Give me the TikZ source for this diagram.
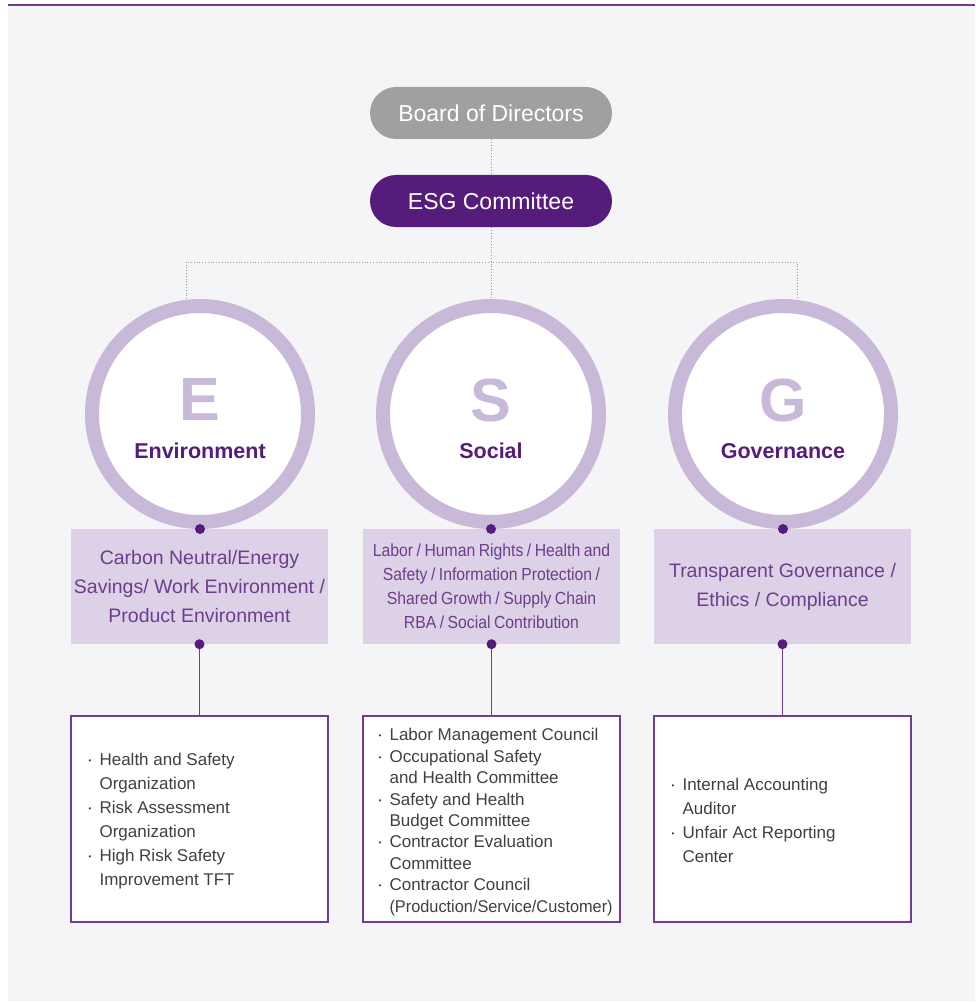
\documentclass[tikz,border=0pt]{standalone}
\usepackage{fontspec}
\setmainfont{Liberation Sans}
\newfontfamily\narrowfont[FakeStretch=0.9, WordSpace=0.8]{Liberation Sans}
\newfontfamily\slimfont[FakeStretch=0.96]{Liberation Sans}
\usetikzlibrary{positioning}
\definecolor{panelgray}{RGB}{245,245,247}
\definecolor{esgpurple}{RGB}{86,28,124}
\definecolor{ringlilac}{RGB}{201,185,216}
\definecolor{boxlilac}{RGB}{220,209,230}
\definecolor{topicpurple}{RGB}{108,62,142}
\definecolor{linepurple}{RGB}{112,60,150}
\definecolor{boardgray}{RGB}{160,160,160}
\definecolor{itemgray}{RGB}{64,64,64}
\newcommand{\itm}{\makebox[11pt][l]{\raisebox{2pt}{\fontsize{8}{8}\selectfont •}}}
\newcommand{\cnt}{\hspace*{11pt}}

\begin{document}
\begin{tikzpicture}[x=1pt, y=-1pt]

        % Styles
        \tikzset{
            pill/.style={rounded corners=26pt, minimum width=242pt, minimum height=52pt, inner sep=0pt, text=white, font=\fontsize{23}{28}\selectfont},
            ring/.style={circle, draw=ringlilac, line width=14pt, fill=white, minimum size=216pt, inner sep=0pt},
            bigletter/.style={text=ringlilac, font=\fontsize{61}{61}\selectfont\bfseries},
            pillar/.style={text=esgpurple, font=\fontsize{21.5}{26}\selectfont\bfseries},
            topic/.style={fill=boxlilac, minimum width=257pt, minimum height=115pt, inner sep=0pt, align=center, text=topicpurple},
            list/.style={draw=linepurple, line width=1.3pt, fill=white, minimum width=257pt, minimum height=206pt, inner sep=0pt},
            items/.style={anchor=west, inner sep=0pt, align=left, text=itemgray},
            dotline/.style={draw=gray!80, dotted, line width=0.8pt},
            link/.style={draw=linepurple, line width=1.3pt},
            joint/.style={fill=esgpurple}
        }

        % --- Background panel ---
        \fill[white] (0,0) rectangle (975,1003);
        \fill[panelgray] (8,5) rectangle (975,1001);
        \draw[linepurple, line width=1.5pt] (8,5) -- (975,5);

        % --- Top of the chart ---
        \node[pill, fill=boardgray] (board) at (491,113) {Board of Directors};
        \node[pill, fill=esgpurple] (esg) at (491,201) {ESG Committee};

        % --- E / S / G circles ---
        \node[ring] (ringE) at (200,414) {};
        \node[ring] (ringS) at (491,414) {};
        \node[ring] (ringG) at (783,414) {};
        \node[bigletter] (letE) at (200,400) {E};
        \node[bigletter] (letS) at (491,400) {S};
        \node[bigletter] (letG) at (783,400) {G};
        \node[pillar] (nameE) at (200,451) {Environment};
        \node[pillar] (nameS) at (491,451) {Social};
        \node[pillar] (nameG) at (783,451) {Governance};

        % Dotted reporting lines
        \coordinate (splitL) at (186,262);
        \coordinate (splitR) at (797,262);
        \draw[dotline] (board.south) -- (esg.north);
        \draw[dotline] (esg.south) -- (ringS.north);
        \draw[dotline] (splitL |- ringE.north) -- (splitL) -- (splitR) -- (splitR |- ringG.north);

        % --- Topic boxes ---
        \node[topic, font=\fontsize{19.5}{29}\selectfont] (topicE) at (199.5,586.5) {Carbon Neutral/Energy\\Savings/ Work Environment /\\Product Environment};
        \node[topic, font=\narrowfont\fontsize{17.5}{24}\selectfont] (topicS) at (491.5,586.5) {Labor / Human Rights / Health and\\Safety / Information Protection /\\Shared Growth / Supply Chain\\RBA / Social Contribution};
        \node[topic, font=\fontsize{19.5}{29}\selectfont] (topicG) at (782.5,586.5) {Transparent Governance /\\Ethics / Compliance};

        % --- Organisation boxes ---
        \node[list] (listE) at (199.5,819) {};
        \node[list] (listS) at (491.5,819) {};
        \node[list] (listG) at (782.5,819) {};
        \node[items, font=\fontsize{17}{24}\selectfont] (itemsE) at ([xshift=18pt, yshift=-2pt]listE.west) {\itm Health and Safety\\\cnt Organization\\\itm Risk Assessment\\\cnt Organization\\\itm High Risk Safety\\\cnt Improvement TFT};
        \node[items, font=\fontsize{17}{21.4}\selectfont] (itemsS) at ([xshift=16pt, yshift=-3pt]listS.west) {\itm Labor Management Council\\\itm Occupational Safety\\\cnt and Health Committee\\\itm Safety and Health\\\cnt Budget Committee\\\itm Contractor Evaluation\\\cnt Committee\\\itm Contractor Council\\\cnt{\slimfont(Production/Service/Customer)}};
        \node[items, font=\fontsize{17}{24}\selectfont] (itemsG) at ([xshift=18pt, yshift=-1pt]listG.west) {\itm Internal Accounting\\\cnt Auditor\\\itm Unfair Act Reporting\\\cnt Center};

        % Purple links with joints
        \foreach \k in {E,S,G} {
            \draw[link] (topic\k.south) -- (list\k.north);
            \fill[joint] (ring\k.south) circle (5pt);
            \fill[joint] (topic\k.south) circle (5pt);
        }

\end{tikzpicture}
\end{document}
